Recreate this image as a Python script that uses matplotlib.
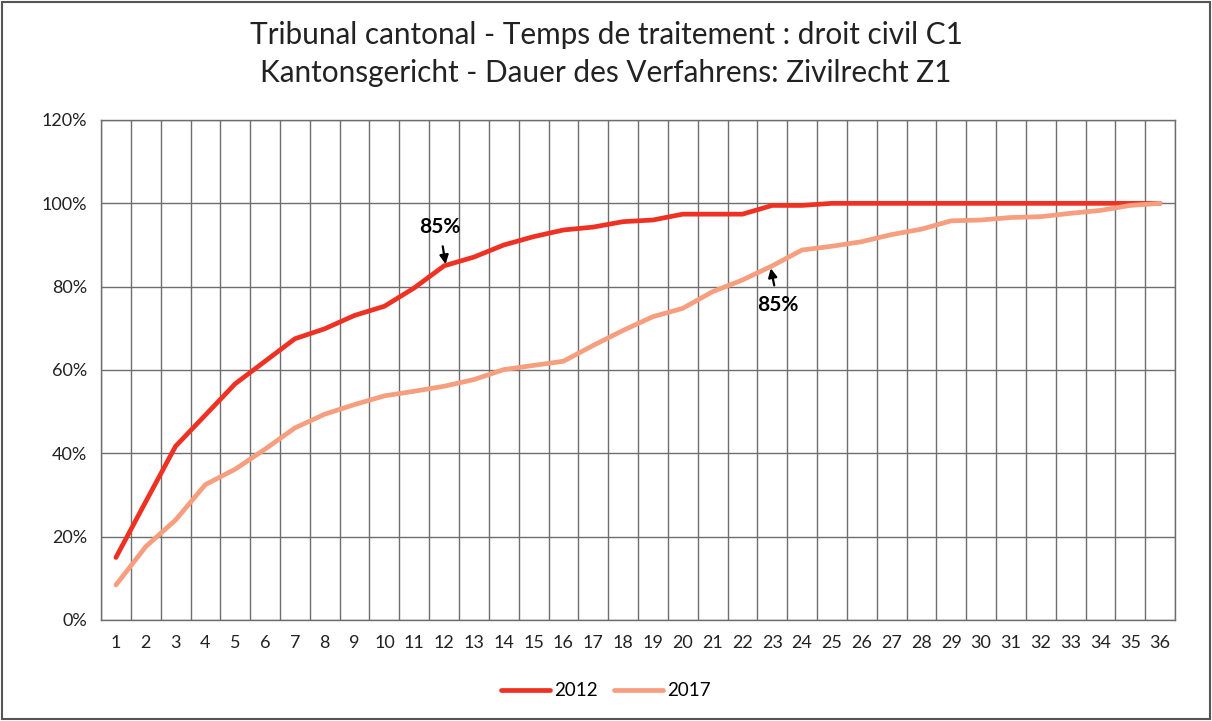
import matplotlib.pyplot as plt
import numpy as np
from matplotlib.patches import Rectangle

plt.rcParams['font.family'] = ['Lato', 'DejaVu Sans']

months = list(range(1, 37))
pct_2012 = [15.0, 28.4, 41.7, 49.2, 56.7, 62.1, 67.5, 69.9, 73.1, 75.3, 79.7, 85.0,
            87.1, 90.0, 92.0, 93.6, 94.3, 95.6, 96.0, 97.4, 97.4, 97.4, 99.5, 99.5,
            100, 100, 100, 100, 100, 100, 100, 100, 100, 100, 100, 100]
pct_2017 = [8.4, 17.6, 24.0, 32.5, 36.2, 41.0, 46.1, 49.4, 51.7, 53.8, 54.9, 56.1,
            57.7, 60.1, 61.1, 62.1, 65.9, 69.5, 72.8, 74.8, 78.8, 81.6, 85.0, 88.8,
            89.7, 90.8, 92.5, 93.8, 95.8, 96.0, 96.6, 96.8, 97.6, 98.3, 99.5, 100]
y_ticks = [0, 20, 40, 60, 80, 100, 120]

title = ("Tribunal cantonal - Temps de traitement : droit civil C1\n"
         "Kantonsgericht - Dauer des Verfahrens: Zivilrecht Z1")

fig = plt.figure(figsize=(12.12, 7.21), dpi=100)
ax = fig.add_axes([101/1212, 1 - 620/721, 1074/1212, 500/721])

ax.plot(months, pct_2012, color='#EF3124', lw=3.4, label='2012', solid_capstyle='round')
ax.plot(months, pct_2017, color='#F69E7E', lw=3.4, label='2017', solid_capstyle='round')

ax.set_xlim(0.5, 36.5)
ax.set_ylim(0, 120)
ax.set_xticks(months)
ax.set_xticks(np.arange(0.5, 37, 1), minor=True)
ax.set_yticks(y_ticks)
ax.set_yticklabels([f"{v}%" for v in y_ticks])
ax.tick_params(which='both', length=0)
ax.tick_params(axis='x', pad=11, labelsize=13, colors='#222222')
ax.tick_params(axis='y', pad=10, labelsize=13, colors='#222222')
ax.grid(True, axis='y', which='major', color='#6e6e6e', lw=1)
ax.grid(True, axis='x', which='minor', color='#6e6e6e', lw=1)
ax.set_axisbelow(True)
for s in ax.spines.values():
    s.set_color('#6e6e6e')
    s.set_linewidth(1)

# 85% markers
ax.annotate('85%', xy=(12.05, pct_2012[11] + 0.4), xytext=(11.85, 94.4),
            ha='center', va='center', fontsize=15, fontweight='bold',
            arrowprops=dict(arrowstyle='-|>', color='black', lw=1.6,
                            shrinkA=5, shrinkB=0, mutation_scale=13))
ax.annotate('85%', xy=(22.95, pct_2017[22] - 0.6), xytext=(23.2, 75.6),
            ha='center', va='center', fontsize=15, fontweight='bold',
            arrowprops=dict(arrowstyle='-|>', color='black', lw=1.6,
                            shrinkA=5, shrinkB=0, mutation_scale=13))

fig.suptitle(title, y=1 - 54/721, va='center', fontsize=21.4, color='#222222',
             linespacing=1.45)

fig.legend(loc='center', bbox_to_anchor=(0.5, 1 - 691/721), ncol=2, frameon=False,
           fontsize=13.5, handlelength=2.6, handletextpad=0.2, columnspacing=0.9)

fig.add_artist(Rectangle((2/1212, 2/721), 1208/1212, 717/721, transform=fig.transFigure,
                         fill=False, edgecolor='#555555', lw=1.5))

fig.savefig('out.png', dpi=100)
